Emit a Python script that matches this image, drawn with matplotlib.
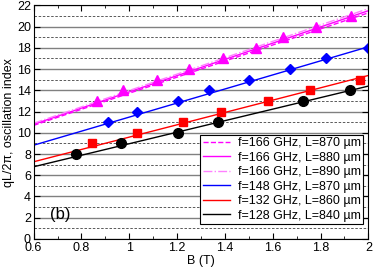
import numpy as np
import matplotlib
matplotlib.use('Agg')
import matplotlib.pyplot as plt
from matplotlib.ticker import MultipleLocator

plt.rcParams['font.family'] = ['Liberation Sans', 'DejaVu Sans']

# measured points (B in T, oscillation index)
b_166 = [0.863, 0.974, 1.114, 1.25, 1.393, 1.53, 1.642, 1.782, 1.927]
n_166 = [13, 14, 15, 16, 17, 18, 19, 20, 21]
b_148 = [0.911, 1.033, 1.205, 1.335, 1.502, 1.673, 1.824, 1.997]
n_148 = [11, 12, 13, 14, 15, 16, 17, 18]
b_132 = [0.844, 1.033, 1.223, 1.384, 1.582, 1.757, 1.966]
n_132 = [9, 10, 11, 12, 13, 14, 15]
b_128 = [0.776, 0.965, 1.205, 1.372, 1.725, 1.924]
n_128 = [8, 9, 10, 11, 13, 14]

# model lines, values at B = 0.6 and 2.0
b_line = [0.6, 2.0]
line_166_870 = [10.7, 21.3]
line_166_880 = [10.8, 21.5]
line_166_890 = [10.9, 21.7]
line_148 = [8.83, 18.1]
line_132 = [7.27, 15.4]
line_128 = [6.8, 14.4]

fig, ax = plt.subplots(figsize=(3.74, 2.70), dpi=100)
fig.subplots_adjust(left=0.09, right=0.985, top=0.98, bottom=0.115)

ax.plot(b_line, line_166_870, '--', color='#ff00ff', lw=1, label='f=166 GHz, L=870 \u00b5m')
ax.plot(b_line, line_166_880, '-', color='#ff00ff', lw=1, label='f=166 GHz, L=880 \u00b5m')
ax.plot(b_line, line_166_890, '-.', color='#ff80ff', lw=1, label='f=166 GHz, L=890 \u00b5m')
ax.plot(b_line, line_148, '-', color='#0000ff', lw=1, label='f=148 GHz, L=870 \u00b5m')
ax.plot(b_line, line_132, '-', color='#ff0000', lw=1, label='f=132 GHz, L=860 \u00b5m')
ax.plot(b_line, line_128, '-', color='black', lw=1, label='f=128 GHz, L=840 \u00b5m')

ax.plot(b_166, n_166, '^', color='#ff00ff', ms=7, ls='none')
ax.plot(b_148, n_148, 'D', color='#0000ff', ms=5.5, ls='none')
ax.plot(b_132, n_132, 's', color='#ff0000', ms=6, ls='none')
ax.plot(b_128, n_128, 'o', color='black', ms=7, ls='none')

ax.set_xlim(0.6, 2.0)
ax.set_ylim(0, 22)
ax.xaxis.set_major_locator(MultipleLocator(0.2))
ax.xaxis.set_minor_locator(MultipleLocator(0.1))
ax.yaxis.set_major_locator(MultipleLocator(2))
ax.yaxis.set_minor_locator(MultipleLocator(1))
ax.set_xticks([0.6, 0.8, 1.0, 1.2, 1.4, 1.6, 1.8, 2.0])
ax.set_xticklabels(['0.6', '0.8', '1', '1.2', '1.4', '1.6', '1.8', '2'])
ax.tick_params(which='both', direction='in', top=True, right=True, labelsize=9, pad=2)
ax.tick_params(which='major', length=4)
ax.tick_params(which='minor', length=2)
ax.tick_params(axis='y', which='minor', length=0)

ax.grid(which='major', axis='y', color='#808080', lw=1, ls='-')
ax.grid(which='minor', axis='y', color='#404040', lw=0.6, ls=(0, (3, 2)))
ax.set_axisbelow(True)

ax.set_xlabel('B (T)', fontsize=9, labelpad=1)
ax.set_ylabel('qL/2\u03c0, oscillation index', fontsize=9, labelpad=1)
ax.text(0.67, 1.9, '(b)', fontsize=12)

leg = ax.legend(loc='lower right', fontsize=9, frameon=True, fancybox=False,
                edgecolor='black', framealpha=1, handlelength=2.2,
                borderpad=0.2, labelspacing=0.2, handletextpad=0.6,
                borderaxespad=0, bbox_to_anchor=(0.985, 0.064))
leg.get_frame().set_linewidth(0.8)

fig.savefig('out.png', dpi=100)
